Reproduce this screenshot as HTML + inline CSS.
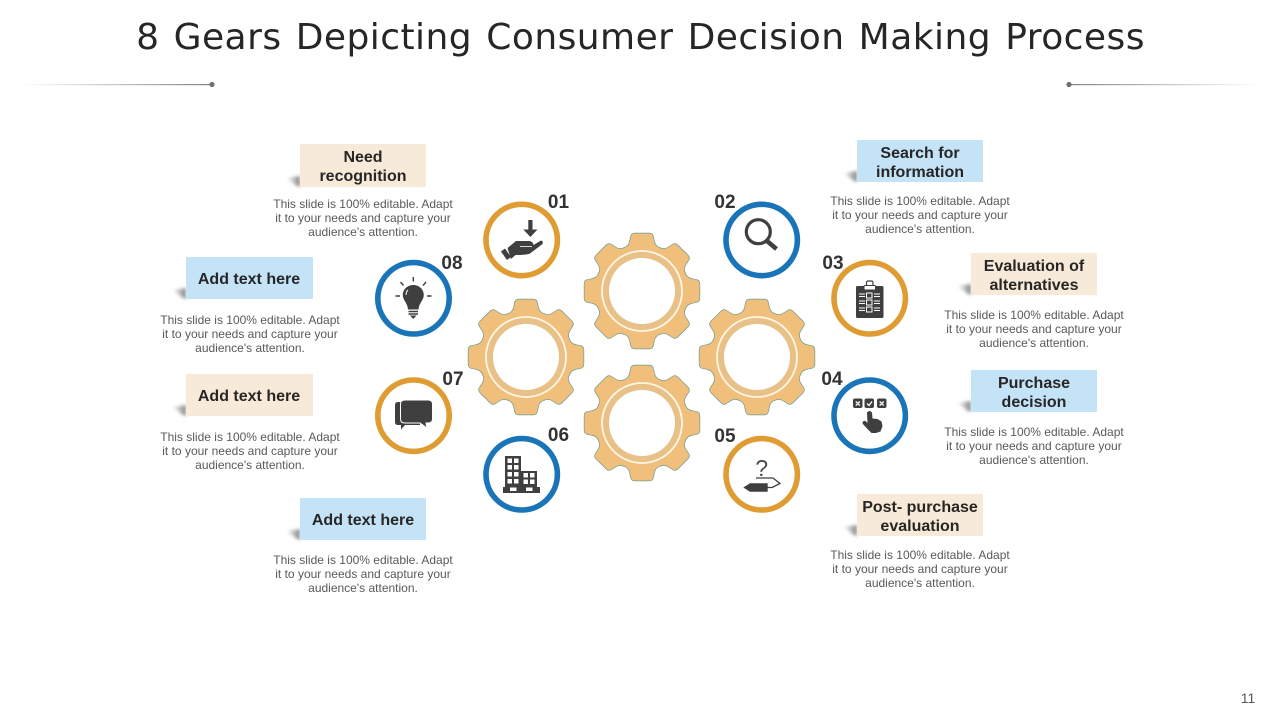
<!DOCTYPE html>
<html><head><meta charset="utf-8">
<style>
html,body{margin:0;padding:0;background:#fff;width:1280px;height:720px;overflow:hidden}
svg{display:block}
.b{font:bold 16px "Liberation Sans",sans-serif;fill:#262626;text-anchor:middle}
.d{font:12px "Liberation Sans",sans-serif;fill:#595959;text-anchor:middle}
.n{font:bold 19px "Liberation Sans",sans-serif;fill:#333;text-anchor:middle}
.i{fill:#3f3f3f}
</style></head><body>
<svg width="1280" height="720" viewBox="0 0 1280 720" xmlns="http://www.w3.org/2000/svg">
<defs>
<linearGradient id="lg" x1="0" x2="1" y1="0" y2="0"><stop offset="0" stop-color="#909090" stop-opacity="0"/><stop offset="1" stop-color="#808080"/></linearGradient>
<linearGradient id="rg" x1="0" x2="1" y1="0" y2="0"><stop offset="0" stop-color="#808080"/><stop offset="1" stop-color="#909090" stop-opacity="0"/></linearGradient>
<linearGradient id="sg" x1="0" x2="1" y1="0" y2="0"><stop offset="0" stop-color="#999" stop-opacity="0"/><stop offset="1" stop-color="#808080"/></linearGradient>
<filter id="bl" x="-40%" y="-40%" width="180%" height="180%"><feGaussianBlur stdDeviation="1.500"/></filter>
<g id="shape">
<circle r="46.5"/>
<g id="t4"><path id="t" d="M-18,-43 Q-13,-44.500 -12,-50 L-11,-54.500 Q-10.500,-57.500 -7,-57.500 L7,-57.500 Q10.500,-57.500 11,-54.500 L12,-50 Q13,-44.500 18,-43 Z"/>
<use href="#t" transform="rotate(45)"/><use href="#t" transform="rotate(90)"/><use href="#t" transform="rotate(135)"/></g>
<use href="#t4" transform="rotate(180)"/>
</g>
<g id="gear">
<use href="#shape" fill="#6f9c8c" stroke="#6f9c8c" stroke-width="1.400"/>
<use href="#shape" fill="#efbf7b"/>
<circle r="36.500" fill="none" stroke="#e8c188" stroke-width="7"/>
<circle r="40" fill="none" stroke="#fff6e4" stroke-width="1.800"/>
<circle r="33" fill="#fff"/>
</g>
<g id="sh"><path d="M-14,-9 L0,-11 L0,0 L-3,-1 Z" fill="url(#sg)" filter="url(#bl)"/></g>
</defs>

<text x="640.500" y="49" text-anchor="middle" font-family="'DejaVu Sans',sans-serif" font-size="36" fill="#262626" word-spacing="2.300" letter-spacing="0.450">8 Gears Depicting Consumer Decision Making Process</text>

<rect x="20" y="84" width="192" height="1.200" fill="url(#lg)"/><circle cx="212" cy="84.500" r="2.600" fill="#707070"/>
<rect x="1069" y="84" width="192" height="1.200" fill="url(#rg)"/><circle cx="1069" cy="84.500" r="2.600" fill="#707070"/>

<!-- gears -->
<use href="#gear" x="642" y="291"/>
<use href="#gear" x="526" y="357"/>
<use href="#gear" x="757" y="357"/>
<use href="#gear" x="642" y="423"/>

<!-- label boxes -->
<use href="#sh" x="300" y="187"/><rect x="300" y="144" width="126" height="43" fill="#f8ead8"/>
<use href="#sh" x="857" y="182"/><rect x="857" y="140" width="126" height="42" fill="#c5e3f7"/>
<use href="#sh" x="186" y="299"/><rect x="186" y="257" width="127" height="42" fill="#c5e3f7"/>
<use href="#sh" x="971" y="295"/><rect x="971" y="253" width="126" height="42" fill="#f8ead8"/>
<use href="#sh" x="186" y="416"/><rect x="186" y="374" width="127" height="42" fill="#f8ead8"/>
<use href="#sh" x="971" y="412"/><rect x="971" y="370" width="126" height="42" fill="#c5e3f7"/>
<use href="#sh" x="300" y="540"/><rect x="300" y="498" width="126" height="42" fill="#c5e3f7"/>
<use href="#sh" x="857" y="536"/><rect x="857" y="494" width="126" height="42" fill="#f8ead8"/>

<text class="b" x="363" y="162">Need</text><text class="b" x="363" y="181">recognition</text>
<text class="b" x="920" y="158">Search for</text><text class="b" x="920" y="177">information</text>
<text class="b" x="249" y="284">Add text here</text>
<text class="b" x="1034" y="271">Evaluation of</text><text class="b" x="1034" y="290">alternatives</text>
<text class="b" x="249" y="401">Add text here</text>
<text class="b" x="1034" y="388">Purchase</text><text class="b" x="1034" y="407">decision</text>
<text class="b" x="363" y="525">Add text here</text>
<text class="b" x="920" y="512">Post- purchase</text><text class="b" x="920" y="531">evaluation</text>

<text class="d" x="363" y="208">This slide is 100% editable. Adapt</text><text class="d" x="363" y="222">it to your needs and capture your</text><text class="d" x="363" y="236">audience's attention.</text>
<text class="d" x="920" y="205">This slide is 100% editable. Adapt</text><text class="d" x="920" y="219">it to your needs and capture your</text><text class="d" x="920" y="233">audience's attention.</text>
<text class="d" x="250" y="324">This slide is 100% editable. Adapt</text><text class="d" x="250" y="338">it to your needs and capture your</text><text class="d" x="250" y="352">audience's attention.</text>
<text class="d" x="1034" y="319">This slide is 100% editable. Adapt</text><text class="d" x="1034" y="333">it to your needs and capture your</text><text class="d" x="1034" y="347">audience's attention.</text>
<text class="d" x="250" y="441">This slide is 100% editable. Adapt</text><text class="d" x="250" y="455">it to your needs and capture your</text><text class="d" x="250" y="469">audience's attention.</text>
<text class="d" x="1034" y="436">This slide is 100% editable. Adapt</text><text class="d" x="1034" y="450">it to your needs and capture your</text><text class="d" x="1034" y="464">audience's attention.</text>
<text class="d" x="363" y="564">This slide is 100% editable. Adapt</text><text class="d" x="363" y="578">it to your needs and capture your</text><text class="d" x="363" y="592">audience's attention.</text>
<text class="d" x="920" y="559">This slide is 100% editable. Adapt</text><text class="d" x="920" y="573">it to your needs and capture your</text><text class="d" x="920" y="587">audience's attention.</text>

<!-- circles -->
<g fill="#fff" stroke-width="5.600">
<circle cx="521.700" cy="240" r="35.700" stroke="#df9c33"/>
<circle cx="761.700" cy="240" r="35.700" stroke="#1a75b8"/>
<circle cx="869.700" cy="298.300" r="35.700" stroke="#df9c33"/>
<circle cx="869.700" cy="415.700" r="35.700" stroke="#1a75b8"/>
<circle cx="761.700" cy="474.300" r="35.700" stroke="#df9c33"/>
<circle cx="521.700" cy="474.300" r="35.700" stroke="#1a75b8"/>
<circle cx="413.500" cy="415.700" r="35.700" stroke="#df9c33"/>
<circle cx="413.500" cy="298.300" r="35.700" stroke="#1a75b8"/>
</g>

<text class="n" x="558.500" y="208">01</text>
<text class="n" x="725" y="208">02</text>
<text class="n" x="833" y="269">03</text>
<text class="n" x="832" y="385">04</text>
<text class="n" x="725" y="442">05</text>
<text class="n" x="558.500" y="441">06</text>
<text class="n" x="453" y="385">07</text>
<text class="n" x="452" y="269">08</text>

<!-- icon 01 hand -->
<path class="i" d="M528.300,220 H532.500 V229.500 H537.500 L530.400,237 L523.300,229.500 H528.300 Z"/>
<path class="i" d="M507.500,248 L516,241 H529.500 Q533,241.500 533.500,245 L541,240.500 Q543.500,241 542.500,244 L530,253.500 Q527,255 515.500,255 L511,259 Z"/>
<path d="M503,250 L509,258.500" stroke="#3f3f3f" stroke-width="5" fill="none"/>
<path d="M520,246.500 H532" stroke="#fff" stroke-width="0.800" fill="none"/>

<!-- icon 02 magnifier -->
<circle cx="758.300" cy="231.700" r="12" fill="none" stroke="#3f3f3f" stroke-width="3.200"/>
<path d="M767,241 L776.500,249" stroke="#3f3f3f" stroke-width="4.500" fill="none"/>

<!-- icon 03 clipboard -->
<rect class="i" x="856" y="286" width="27.500" height="32" rx="1.500"/>
<rect x="866.500" y="281" width="6.500" height="6" rx="1.500" fill="#fff" stroke="#3f3f3f" stroke-width="1.200"/>
<rect x="864" y="285.500" width="11.500" height="4.500" rx="1" fill="#fff" stroke="#3f3f3f" stroke-width="1"/>
<g fill="none" stroke="#fff" stroke-width="1">
<rect x="866.500" y="293" width="5.500" height="5"/><rect x="866.500" y="300" width="5.500" height="5"/><rect x="866.500" y="307" width="5.500" height="5"/>
<path d="M859,294 H865 M859,296.500 H865 M874,294 H880 M874,296.500 H880 M859,301 H865 M859,303.500 H865 M874,301 H880 M874,303.500 H880 M859,308 H865 M859,310.500 H865 M874,308 H880 M874,310.500 H880"/>
</g>

<!-- icon 04 -->
<g class="i"><rect x="853" y="398.500" width="9.500" height="9.500" rx="2"/><rect x="864.500" y="398.500" width="9.500" height="9.500" rx="2"/><rect x="877" y="398.500" width="9.500" height="9.500" rx="2"/></g>
<path d="M855.800,401.500 L859.800,405.500 M859.800,401.500 L855.800,405.500 M879.700,401.500 L883.700,405.500 M883.700,401.500 L879.700,405.500 M867,403.500 L869,405.500 L872,401.500" stroke="#fff" stroke-width="1.300" fill="none"/>
<path class="i" d="M867,412.500 Q869.500,409.500 872,412.500 L872.500,418.500 L877.500,419 L881.500,421.500 L882.500,426 L880.500,431.500 L876,433 H871.500 L866.500,428 L862.500,423.500 Q862.500,420.500 865.500,421 L867.500,423 Z"/>

<!-- icon 05 -->
<text x="761.700" y="476" text-anchor="middle" font-family="'Liberation Sans',sans-serif" font-size="23" fill="#4a4a4a">?</text>
<path d="M756,478 H773 L780,483.500 L772,487.500 M767,487.500 H772" fill="none" stroke="#3f3f3f" stroke-width="1.300"/>
<path class="i" d="M743.300,487.500 L750,483.300 H767.700 V491.700 H750 Z"/>

<!-- icon 06 building -->
<path class="i" d="M505,456 H521 V471 H537 V487 H540 V493 H503 V487 H505 Z"/>
<g fill="#fff">
<rect x="507.500" y="458.500" width="4.500" height="4.500"/><rect x="514" y="458.500" width="4.500" height="4.500"/>
<rect x="507.500" y="465" width="4.500" height="4.500"/><rect x="514" y="465" width="4.500" height="4.500"/>
<rect x="507.500" y="472" width="4.500" height="4.500"/><rect x="514" y="472" width="4.500" height="4.500"/>
<rect x="507.500" y="479" width="4.500" height="4.500"/><rect x="514" y="479" width="4.500" height="4.500"/>
<rect x="523.500" y="473" width="4.500" height="4.500"/><rect x="530" y="473" width="4.500" height="4.500"/>
<rect x="523.500" y="479.500" width="4.500" height="4.500"/><rect x="530" y="479.500" width="4.500" height="4.500"/>
<rect x="510" y="487.500" width="6.500" height="3.500"/><rect x="526" y="487.500" width="6.500" height="3.500"/>
</g>

<!-- icon 07 speech -->
<path class="i" d="M398,402 H420 V425 H405 L401,429.500 V425 H398 Q395,425 395,422 V405 Q395,402 398,402 Z"/>
<path class="i" stroke="#fff" stroke-width="1" d="M405,400 H428 Q432.500,400 432.500,404 V419 Q432.500,423 428,423 H426 L427,428 L420,423 H405 Q400.500,423 400.500,419 V404 Q400.500,400 405,400 Z"/>

<!-- icon 08 bulb -->
<path class="i" d="M413.300,285 C419.300,285 423.800,289.500 423.800,295 C423.800,300.500 418.800,303 418.500,309.500 H408 C407.700,303 402.800,300.500 402.800,295 C402.800,289.500 407.300,285 413.300,285 Z"/>
<path d="M408,290 Q406,292 406,295" stroke="#fff" stroke-width="1" fill="none"/>
<path d="M408.500,311.500 H418 M408.500,314 H418" stroke="#3f3f3f" stroke-width="1.500"/>
<path class="i" d="M410,315.500 H416.500 L413.300,319 Z"/>
<path d="M413.300,277 V281.500 M400.500,282 L403.500,285.500 M426,282 L423,285.500 M395.500,296 H400 M427,296 H431.500" stroke="#3f3f3f" stroke-width="1.400"/>

<text x="1248" y="703" text-anchor="middle" font-family="'Liberation Sans',sans-serif" font-size="14" fill="#595959">11</text>
</svg>
</body></html>
